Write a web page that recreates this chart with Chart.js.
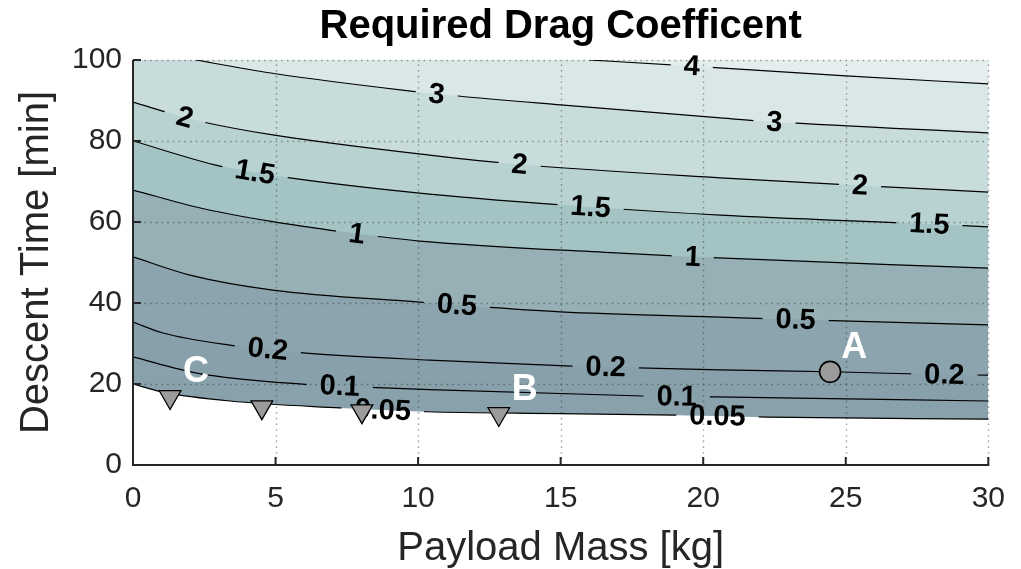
<!DOCTYPE html>
<html>
<head>
<meta charset="utf-8">
<title>Required Drag Coefficent</title>
<script src="https://cdn.jsdelivr.net/npm/chart.js@4.4.1/dist/chart.umd.min.js"></script>
<style>
  html, body { margin: 0; padding: 0; background: #ffffff; }
  #wrap { width: 1021px; height: 569px; }
</style>
</head>
<body>
<div id="wrap"><canvas id="chart" width="1021" height="569"></canvas></div>
<script>
// Contour levels of the required drag coefficient, highest first
const levels = ['4', '3', '2', '1.5', '1', '0.5', '0.2', '0.1', '0.05'];

// Each contour line as [payload mass (kg), descent time (min)] pairs
const cd4   = [[16.0, 100], [19.6, 98.5], [25.0, 96.1], [30, 94.1]];
const cd3   = [[2.2, 100], [5.0, 96.6], [10.0, 92.1], [10.65, 91.6], [15.0, 88.9], [20.6, 85.7], [22.5, 84.7], [30, 82.0]];
const cd2   = [[0, 89.6], [1.82, 85.8], [2.45, 84.7], [4.9, 81.5], [10.4, 76.5], [13.56, 74.2], [20.6, 70.9], [25.5, 69.0], [30, 67.4]];
const cd15  = [[0, 80.0], [3.05, 73.8], [4.28, 72.3], [5.5, 70.9], [10.4, 66.9], [16.05, 63.7], [20.6, 61.7], [27.93, 59.5], [30, 58.8]];
const cd1   = [[0, 67.9], [2.4, 63.4], [4.9, 60.1], [7.85, 57.1], [10.06, 55.3], [17.1, 52.3], [19.63, 51.4], [30, 48.6]];
const cd05  = [[0, 51.4], [2.0, 46.9], [4.9, 43.2], [10.06, 40.2], [11.36, 39.5], [15.0, 37.8], [20.6, 36.5], [23.24, 35.9], [30, 34.6]];
const cd02  = [[0, 35.3], [1.05, 32.6], [3.4, 29.6], [4.73, 28.6], [5.96, 27.7], [10.4, 25.9], [15.4, 24.4], [16.58, 24.2], [20.6, 23.5], [24.9, 22.96], [28.46, 22.3], [30, 22.2]];
const cd01  = [[0, 26.7], [2.24, 22.7], [6.03, 19.9], [7.25, 19.5], [8.55, 19.1], [10.4, 18.6], [17.9, 17.04], [19.07, 16.9], [20.4, 16.8], [30, 15.8]];
const cd005 = [[0, 20.0], [1.05, 18.0], [3.4, 15.8], [7.25, 14.1], [8.76, 13.6], [10.3, 13.15], [15.0, 12.7], [19.1, 12.3], [20.5, 12.1], [22.3, 11.8], [30, 11.35]];
const contours = [cd4, cd3, cd2, cd15, cd1, cd05, cd02, cd01, cd005];

// Payload masses (kg) where each level is written along its line
const labelMass = [[19.6], [10.65, 22.5], [1.82, 13.56, 25.5], [4.28, 16.05, 27.93], [7.85, 19.63], [11.36, 23.24], [4.73, 16.58, 28.46], [7.25, 19.07], [8.76, 20.5]];

// Band colour above each contour line (same order as levels)
const bandColors = ['#e4eeee', '#d9e7e6', '#c8dcdb', '#b8d2d1', '#a3c3c4', '#96b0b5', '#8ca4ad', '#88a0aa', '#89a1ab'];

// Design points
const triMass  = [1.3, 4.52, 8.03, 12.83];
const triTime  = [16.8, 14.3, 13.3, 12.6];
const dotMass  = [24.45];
const dotTime  = [23.0];
const pointNames = ['A', 'B', 'C'];
const nameMass   = [25.3, 13.74, 2.21];
const nameTime   = [28.9, 18.5, 22.95];

const xTicks = [0, 5, 10, 15, 20, 25, 30];
const yTicks = [0, 20, 40, 60, 80, 100];

const FONT = "'Liberation Sans', Arial, Helvetica, sans-serif";
const INK = '#262626';
const LABEL_FONT = 'bold 29px ' + FONT;

function findIndex(pts, m) {
  let idx = 0, best = Infinity;
  pts.forEach((p, i) => { const d = Math.abs(p[0] - m); if (d < best) { best = d; idx = i; } });
  return idx;
}

// Positions and angles of the inline contour labels
function computeLabelBoxes(chart) {
  const ctx = chart.ctx;
  ctx.save();
  ctx.font = LABEL_FONT;
  const boxes = [];
  contours.forEach((pts, k) => {
    const meta = chart.getDatasetMeta(k + 2);
    labelMass[k].forEach(m => {
      const idx = findIndex(pts, m);
      const el = meta.data[idx];
      let ang;
      if (el.cp1x !== undefined && el.cp2x !== undefined && (el.cp2x !== el.cp1x || el.cp2y !== el.cp1y)) {
        ang = Math.atan2(el.cp2y - el.cp1y, el.cp2x - el.cp1x);
      } else {
        const a = meta.data[Math.max(0, idx - 1)], b = meta.data[Math.min(meta.data.length - 1, idx + 1)];
        ang = Math.atan2(b.y - a.y, b.x - a.x);
      }
      boxes.push({ x: el.x, y: el.y, ang, text: levels[k], w: ctx.measureText(levels[k]).width });
    });
  });
  ctx.restore();
  return boxes;
}

const contourPlugin = {
  id: 'contourDecor',
  beforeDatasetsDraw(chart) {
    const { ctx, chartArea: ca, scales: { x, y } } = chart;
    chart.$labelBoxes = computeLabelBoxes(chart);
    // dotted grid over the filled bands
    ctx.save();
    ctx.strokeStyle = 'rgba(38,38,38,0.42)';
    ctx.lineWidth = 1.4;
    ctx.setLineDash([1.6, 4.1]);
    xTicks.forEach(v => {
      if (v === 0) return;
      const px = Math.round(x.getPixelForValue(v)) + 0.5;
      ctx.beginPath(); ctx.moveTo(px, ca.bottom); ctx.lineTo(px, ca.top); ctx.stroke();
    });
    yTicks.forEach(v => {
      if (v === 0) return;
      const py = Math.round(y.getPixelForValue(v)) + 0.5;
      ctx.beginPath(); ctx.moveTo(ca.left, py); ctx.lineTo(ca.right, py); ctx.stroke();
    });
    ctx.restore();
  },
  beforeDatasetDraw(chart, args) {
    if (args.index < 2) return;
    // leave gaps in the contour lines where the labels sit
    const ctx = chart.ctx;
    ctx.save();
    ctx.beginPath();
    ctx.rect(0, 0, chart.width, chart.height);
    (chart.$labelBoxes || []).forEach(b => {
      const hw = b.w / 2 + 13, hh = 13;
      const c = Math.cos(b.ang), s = Math.sin(b.ang);
      const pts = [[-hw, -hh], [hw, -hh], [hw, hh], [-hw, hh]].map(([u, v]) => [b.x + u * c - v * s, b.y + u * s + v * c]);
      ctx.moveTo(pts[0][0], pts[0][1]);
      for (let i = 1; i < 4; i++) ctx.lineTo(pts[i][0], pts[i][1]);
      ctx.closePath();
    });
    ctx.clip('evenodd');
  },
  afterDatasetDraw(chart, args) {
    if (args.index < 2) return;
    const ctx = chart.ctx;
    ctx.restore();
    if (args.index !== 2) return;
    // contour level labels, drawn before the design-point markers
    ctx.save();
    ctx.font = LABEL_FONT;
    ctx.fillStyle = '#000000';
    ctx.textAlign = 'center';
    ctx.textBaseline = 'middle';
    chart.$labelBoxes.forEach(b => {
      ctx.save();
      ctx.translate(b.x, b.y);
      ctx.rotate(b.ang);
      ctx.fillText(b.text, 0, 1);
      ctx.restore();
    });
    ctx.restore();
  },
  afterDatasetsDraw(chart) {
    const { ctx, chartArea: ca, scales: { x, y } } = chart;
    ctx.save();
    // design point names
    ctx.font = 'bold 36px ' + FONT;
    ctx.fillStyle = '#ffffff';
    ctx.textAlign = 'center';
    ctx.textBaseline = 'middle';
    pointNames.forEach((n, i) => ctx.fillText(n, x.getPixelForValue(nameMass[i]), y.getPixelForValue(nameTime[i])));
    // axis lines with inward ticks
    ctx.strokeStyle = INK;
    ctx.lineWidth = 2;
    ctx.setLineDash([]);
    ctx.beginPath();
    ctx.moveTo(ca.left, ca.top);
    ctx.lineTo(ca.left, ca.bottom);
    ctx.lineTo(ca.right + 1, ca.bottom);
    xTicks.forEach(v => {
      const px = x.getPixelForValue(v);
      ctx.moveTo(px, ca.bottom); ctx.lineTo(px, ca.bottom - 8);
    });
    yTicks.forEach(v => {
      const py = y.getPixelForValue(v);
      ctx.moveTo(ca.left, py); ctx.lineTo(ca.left + 8, py);
    });
    ctx.stroke();
    ctx.restore();
  },
  afterDraw(chart) {
    const { ctx, chartArea: ca } = chart;
    ctx.save();
    ctx.font = 'bold 40px ' + FONT;
    ctx.fillStyle = '#000000';
    ctx.textAlign = 'center';
    ctx.textBaseline = 'alphabetic';
    ctx.fillText('Required Drag Coefficent', (ca.left + ca.right) / 2, 38);
    ctx.restore();
  }
};

const toXY = pts => pts.map(p => ({ x: p[0], y: p[1] }));

const datasets = [
  {
    label: 'A',
    data: dotMass.map((m, i) => ({ x: m, y: dotTime[i] })),
    showLine: false,
    pointStyle: 'circle',
    pointRadius: 10.5,
    pointBackgroundColor: '#9b9b9b',
    pointBorderColor: '#000000',
    pointBorderWidth: 1.6,
    fill: false
  },
  {
    label: 'designs',
    data: triMass.map((m, i) => ({ x: m, y: triTime[i] })),
    showLine: false,
    pointStyle: 'triangle',
    pointRotation: 180,
    pointRadius: 12.5,
    pointBackgroundColor: '#9b9b9b',
    pointBorderColor: '#000000',
    pointBorderWidth: 1.3,
    fill: false
  }
].concat(contours.map((pts, k) => ({
  label: 'Cd = ' + levels[k],
  data: toXY(pts),
  borderColor: '#000000',
  borderWidth: 1.2,
  pointRadius: 0,
  cubicInterpolationMode: 'monotone',
  fill: 'end',
  backgroundColor: bandColors[k]
})));

new Chart(document.getElementById('chart'), {
  type: 'line',
  data: { datasets },
  plugins: [contourPlugin],
  options: {
    responsive: false,
    animation: false,
    devicePixelRatio: 1,
    layout: { padding: { top: 60, right: 32, bottom: 0, left: 0 } },
    plugins: {
      legend: { display: false },
      tooltip: { enabled: false },
      title: { display: false },
      filler: { drawTime: 'beforeDatasetsDraw', propagate: false }
    },
    scales: {
      x: {
        type: 'linear',
        min: 0, max: 30,
        afterBuildTicks: s => { s.ticks = xTicks.map(v => ({ value: v })); },
        ticks: { color: INK, font: { family: FONT, size: 30 }, padding: 16, maxRotation: 0, autoSkip: false },
        grid: { display: false, drawTicks: false },
        border: { display: false },
        title: { display: true, text: 'Payload Mass [kg]', color: INK, font: { family: FONT, size: 40, lineHeight: 1 }, padding: { top: 0, bottom: 0 } },
        afterFit: s => { s.height = 104; }
      },
      y: {
        type: 'linear',
        min: 0, max: 100,
        afterBuildTicks: s => { s.ticks = yTicks.map(v => ({ value: v })); },
        ticks: { color: INK, font: { family: FONT, size: 30 }, padding: 11, autoSkip: false },
        grid: { display: false, drawTicks: false },
        border: { display: false },
        title: { display: true, text: 'Descent Time [min]', color: INK, font: { family: FONT, size: 40, lineHeight: 1 }, padding: { top: 17, bottom: 0 } },
        afterFit: s => { s.width = 133; }
      }
    }
  }
});
</script>
</body>
</html>
